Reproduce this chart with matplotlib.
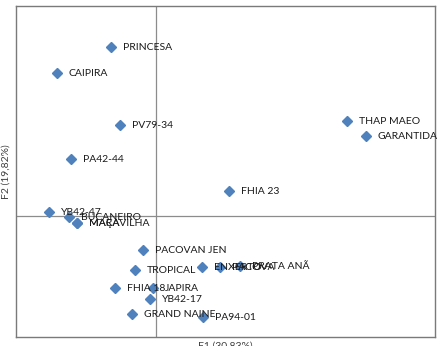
import matplotlib
matplotlib.use("Agg")
import matplotlib.pyplot as plt

labels = ["PRINCESA", "CAIPIRA", "PV79-34", "PA42-44", "THAP MAEO", "GARANTIDA",
          "FHIA 23", "YB42-47", "BUCANEIRO", "MAÇA", "MARAVILHA", "PACOVAN JEN",
          "TROPICAL", "ENXERTO", "PACOVA", "PRATA ANÃ", "FHIA 18", "JAPIRA",
          "YB42-17", "GRAND NAINE", "PA94-01"]
f1 = [-1.125, -2.475, -0.90, -2.125, 4.775, 5.25,
      1.825, -2.675, -2.175, -1.975, -1.975, -0.325,
      -0.525, 1.15, 1.60, 2.10, -1.025, -0.075,
      -0.15, -0.60, 1.175]
f2 = [4.225, 3.575, 2.275, 1.425, 2.375, 2.00,
      0.625, 0.10, -0.025, -0.175, -0.175, -0.85,
      -1.35, -1.275, -1.275, -1.25, -1.80, -1.80,
      -2.075, -2.45, -2.525]
xlabel = "F1 (30,83%)"
ylabel = "F2 (19,82%)"

plt.rcParams['font.family'] = ['Lato', 'DejaVu Sans']

fig = plt.figure(figsize=(4.38, 3.46), dpi=100)
ax = fig.add_axes([16/438, 1-337/346, (435-16)/438, (337-6)/346])
ax.set_xlim(-3.5, 6.98)
ax.set_ylim(-3.02, 5.25)
ax.axhline(0, color='#8c8c8c', lw=0.9, zorder=1)
ax.axvline(0, color='#8c8c8c', lw=0.9, zorder=1)
ax.plot(f1, f2, linestyle='none', marker='D', markersize=5.5,
        color='#4F81BD', zorder=2)
for x, y, t in zip(f1, f2, labels):
    ax.annotate(t, (x, y), xytext=(8.5, 0), textcoords='offset points',
                ha='left', va='center', fontsize=7.5, color='#1a1a1a',
                zorder=3, annotation_clip=False)
ax.set_xticks([])
ax.set_yticks([])
for s in ax.spines.values():
    s.set_color('#7a7a7a')
    s.set_linewidth(1.0)
ax.set_ylabel(ylabel, fontsize=7.5, color='#404040', labelpad=4)
fig.text(225/438, 1-342/346, xlabel, ha='center', va='top', fontsize=7.5,
         color='#404040')
fig.savefig("out.png", dpi=100)
